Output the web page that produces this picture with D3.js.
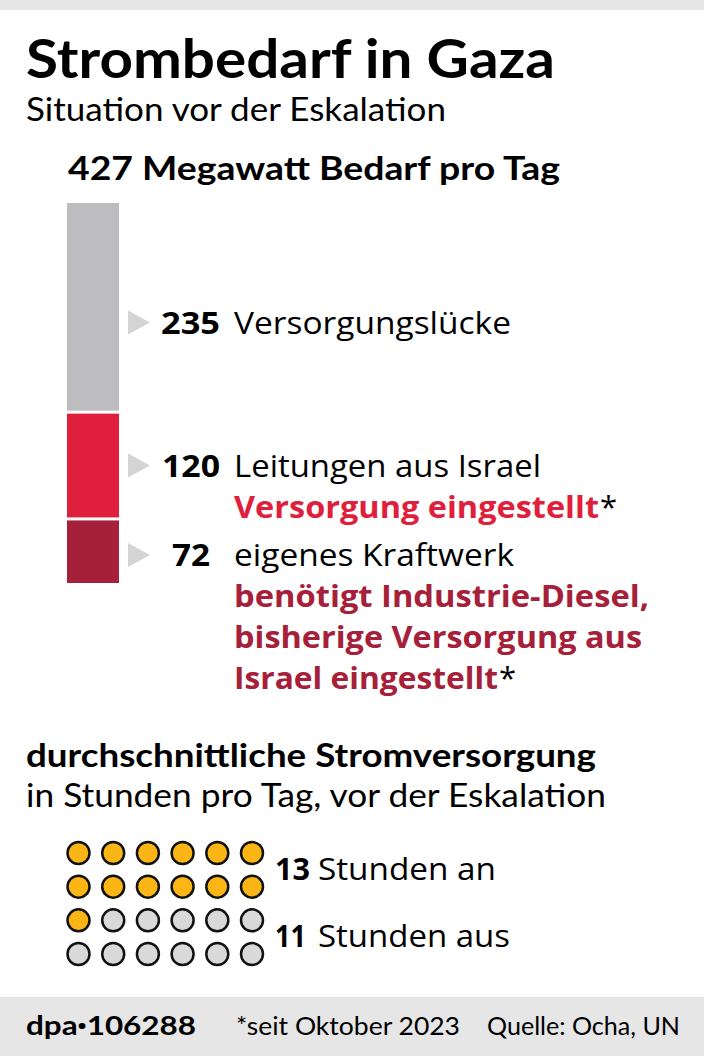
<!DOCTYPE html>
<html><head><meta charset="utf-8">
<script src="https://cdn.jsdelivr.net/npm/d3@7"></script>
<style>
html,body{margin:0;padding:0;background:#fff;}
svg{display:block;}
</style></head>
<body>
<script>
// ---------- data ----------
const title = "Strombedarf in Gaza";
const subtitle = "Situation vor der Eskalation";
const totalLabel = "427 Megawatt Bedarf pro Tag";
const total = 427;
const segNames = ["Versorgungslücke", "Leitungen aus Israel", "eigenes Kraftwerk"];
const segValues = [235, 120, 72];
const segNotes = [[], ["Versorgung eingestellt"], ["benötigt Industrie-Diesel,", "bisherige Versorgung aus", "Israel eingestellt"]];
const hoursHeading = "durchschnittliche Stromversorgung";
const hoursSub = "in Stunden pro Tag, vor der Eskalation";
const hoursValues = [13, 11];
const hoursLabels = ["Stunden an", "Stunden aus"];
const footerIdParts = ["dpa", "\u2022", "106288"];
const footerNote = "*seit Oktober 2023";
const footerSource = "Quelle: Ocha, UN";

// ---------- styles / layout ----------
const W = 704, H = 1056;
const FONT = "'Open Sans', 'Noto Sans', sans-serif";
const HFONT = "Lato, 'Open Sans', sans-serif";
const segFill = ["#bdbcbe", "#e01f3d", "#a6203a"];
const noteFill = ["#000", "#e01f3d", "#a6203a"];
const labelYOffset = [15, 0, 4];
const labelTextLen = [277, 307, 280];
const noteTextLen = [[], [365], [415, 408, 264]];
const numRight = [220, 220, 210];
const numLen = [59, 58, 38];

const svg = d3.select("body").append("svg").attr("width", W).attr("height", H);

svg.append("rect").attr("x", 0).attr("y", 0).attr("width", W).attr("height", 10).attr("fill", "#e6e6e6");
svg.append("rect").attr("x", 0).attr("y", 997).attr("width", W).attr("height", H - 997).attr("fill", "#e6e6e6");

function txt(s, x, y, size, weight, fill, len, anchor, font) {
  const t = svg.append("text").attr("x", x).attr("y", y)
    .attr("font-family", font || FONT).attr("font-size", size)
    .attr("font-weight", weight || 400).attr("fill", fill || "#000")
    .attr("text-anchor", anchor || "start").text(s);
  if (len) t.attr("textLength", len).attr("lengthAdjust", "spacingAndGlyphs");
  return t;
}

txt(title, 26, 78, 53, 700, "#000", 529, "start", HFONT);
txt(subtitle, 26, 121, 32, 400, "#000", 420, "start", HFONT);
txt(totalLabel, 68, 180, 33, 700, "#000", 492, "start", HFONT);

// ---------- stacked bar ----------
const y = d3.scaleLinear().domain([0, total]).range([583, 203]);
const barX = 67, barW = 52, gap = 1.5;
let cum = 0;
const segs = segValues.map((v, i) => ({v, i})).reverse().map(d => {
  const s = {...d, y0: cum, y1: cum + d.v};
  cum += d.v;
  return s;
}).reverse();

svg.selectAll("rect.seg").data(segs).join("rect").attr("class", "seg")
  .attr("x", barX).attr("width", barW)
  .attr("y", d => y(d.y1) + (d.y1 < total ? gap : 0))
  .attr("height", d => (y(d.y0) - (d.y0 > 0 ? gap : 0)) - (y(d.y1) + (d.y1 < total ? gap : 0)))
  .attr("fill", d => segFill[d.i]);

segs.forEach(d => {
  const cy = (y(d.y0) + y(d.y1)) / 2 + labelYOffset[d.i];
  svg.append("path").attr("d", `M128,${cy - 12}L150,${cy}L128,${cy + 12}Z`).attr("fill", "#d4d4d4");
  const base = cy + 11;
  txt(String(d.v), numRight[d.i] - numLen[d.i], base, 31, 700, "#000", numLen[d.i]);
  txt(segNames[d.i], 234, base, 31, 400, "#000", labelTextLen[d.i]);
  segNotes[d.i].forEach((line, j) => {
    const by = base + 41 * (j + 1);
    txt(line, 234, by, 31, 700, noteFill[d.i], noteTextLen[d.i][j]);
    if (j === segNotes[d.i].length - 1) {
      txt("*", 234 + noteTextLen[d.i][j] + 1, by, 31, 400, "#000");
    }
  });
});

// ---------- hours ----------
txt(hoursHeading, 26, 767, 33, 700, "#000", 570, "start", HFONT);
txt(hoursSub, 26, 807, 33, 400, "#000", 580, "start", HFONT);

const cols = 6, rows = 4;
const dx = d3.scalePoint().domain(d3.range(cols)).range([78.5, 252]);
const dy = d3.scalePoint().domain(d3.range(rows)).range([853, 954]);
const dots = d3.range(hoursValues[0] + hoursValues[1]).map(i => ({i, on: i < hoursValues[0]}));
svg.selectAll("circle.dot").data(dots).join("circle").attr("class", "dot")
  .attr("cx", d => dx(d.i % cols)).attr("cy", d => dy(Math.floor(d.i / cols)))
  .attr("r", 11).attr("fill", d => d.on ? "#fbb615" : "#d9d9d9")
  .attr("stroke", "#111").attr("stroke-width", 2.5);

const hoursBase = [880, 947];
const hoursLen = [178, 192];
const hoursNumLen = [35, 31];
hoursValues.forEach((v, i) => {
  txt(String(v), 275, hoursBase[i], 31, 700, "#000", hoursNumLen[i]);
  txt(hoursLabels[i], 318, hoursBase[i], 31, 400, "#000", hoursLen[i]);
});

// ---------- footer ----------
const fid = svg.append("text").attr("x", 26).attr("y", 1035)
  .attr("font-family", HFONT).attr("font-size", 26).attr("font-weight", 700)
  .attr("textLength", 170).attr("lengthAdjust", "spacingAndGlyphs");
fid.append("tspan").text(footerIdParts[0]);
fid.append("tspan").attr("font-family", FONT).attr("font-size", 20).attr("dy", -2).text(footerIdParts[1]);
fid.append("tspan").attr("dy", 2).text(footerIdParts[2]);
txt(footerNote, 236, 1035, 25, 400, "#000", 224, "start", HFONT);
txt(footerSource, 487, 1035, 25, 400, "#000", 193, "start", HFONT);
</script>
</body></html>
